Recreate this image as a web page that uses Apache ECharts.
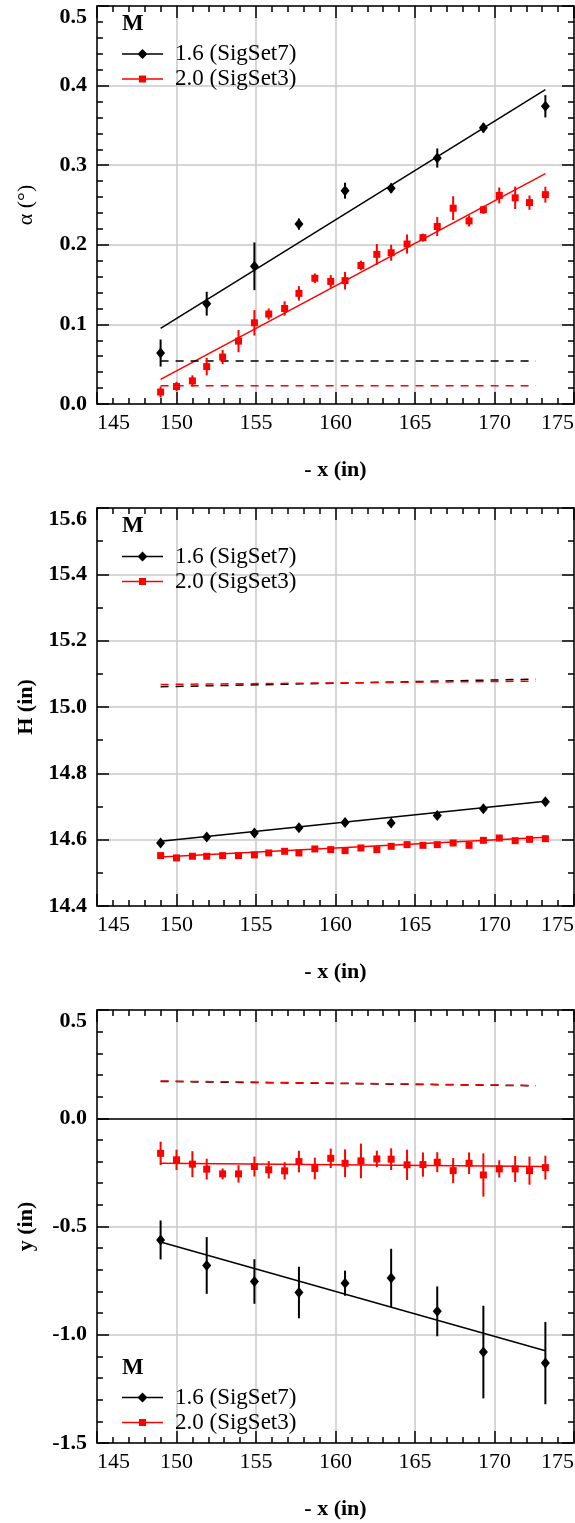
<!DOCTYPE html>
<html>
<head>
<meta charset="utf-8">
<script src="https://cdn.jsdelivr.net/npm/echarts@6/dist/echarts.min.js"></script>
<style>
html,body{margin:0;padding:0;background:#fff;}
#chart{width:575px;height:1523px;}
</style>
</head>
<body>
<div id="chart"></div>
<script>
// ---------------- data ----------------
const xTicks = [145, 150, 155, 160, 165, 170, 175];
const alphaTicks = [0.0, 0.1, 0.2, 0.3, 0.4, 0.5];
const hTicks = [14.4, 14.6, 14.8, 15.0, 15.2, 15.4, 15.6];
const yTicks = [-1.5, -1.0, -0.5, 0.0, 0.5];

const nameBlack = '1.6 (SigSet7)';
const nameRed = '2.0 (SigSet3)';

const xBlack = [149.0, 151.9, 154.9, 157.7, 160.6, 163.5, 166.4, 169.3, 173.2];
const xRed = [149.0, 150.0, 151.0, 151.9, 152.9, 153.9, 154.9, 155.8, 156.8, 157.7, 158.7, 159.7, 160.6,
              161.6, 162.6, 163.5, 164.5, 165.5, 166.4, 167.4, 168.4, 169.3, 170.3, 171.3, 172.2, 173.2];

// panel 1 : alpha (deg)
const alphaBlack = [0.064, 0.126, 0.173, 0.226, 0.268, 0.271, 0.309, 0.347, 0.374];
const alphaBlackErr = [0.017, 0.015, 0.030, 0.007, 0.010, 0.006, 0.012, 0.006, 0.014];
const alphaRed = [0.015, 0.022, 0.029, 0.047, 0.059, 0.079, 0.102, 0.113, 0.120, 0.139, 0.158, 0.154, 0.155,
                  0.174, 0.188, 0.190, 0.201, 0.209, 0.223, 0.246, 0.230, 0.244, 0.262, 0.259, 0.253, 0.263];
const alphaRedErr = [0.007, 0.006, 0.007, 0.011, 0.009, 0.014, 0.016, 0.007, 0.009, 0.009, 0.006, 0.008, 0.011,
                     0.006, 0.013, 0.010, 0.012, 0.005, 0.012, 0.015, 0.007, 0.005, 0.010, 0.014, 0.009, 0.010];
const alphaFitBlack = [[149.0, 0.095], [173.2, 0.395]];
const alphaFitRed = [[149.0, 0.031], [173.2, 0.2895]];
const alphaRefBlack = [[149.0, 0.054], [172.6, 0.054]];
const alphaRefRed = [[149.0, 0.023], [172.6, 0.023]];

// panel 2 : H (in)
const hBlack = [14.590, 14.608, 14.620, 14.636, 14.652, 14.650, 14.673, 14.693, 14.714];
const hRed = [14.552, 14.545, 14.550, 14.550, 14.552, 14.552, 14.554, 14.560, 14.565, 14.560, 14.572, 14.570, 14.567,
              14.575, 14.570, 14.580, 14.585, 14.583, 14.585, 14.590, 14.583, 14.598, 14.605, 14.597, 14.601, 14.603];
const hFitBlack = [[149.0, 14.595], [173.2, 14.716]];
const hFitRed = [[149.0, 14.5475], [173.2, 14.607]];
const hRefBlack = [[149.0, 15.061], [172.6, 15.084]];
const hRefRed = [[149.0, 15.068], [172.6, 15.078]];

// panel 3 : y (in)
const yBlack = [-0.562, -0.680, -0.754, -0.805, -0.762, -0.738, -0.892, -1.080, -1.131];
const yBlackErr = [0.090, 0.131, 0.103, 0.119, 0.058, 0.135, 0.115, 0.214, 0.190];
const yRed = [-0.162, -0.192, -0.212, -0.235, -0.257, -0.257, -0.223, -0.238, -0.243, -0.200, -0.232, -0.185, -0.208,
              -0.197, -0.188, -0.189, -0.215, -0.214, -0.203, -0.242, -0.208, -0.262, -0.234, -0.234, -0.242, -0.228];
const yRedErr = [0.054, 0.047, 0.060, 0.048, 0.025, 0.040, 0.046, 0.040, 0.040, 0.050, 0.050, 0.045, 0.064,
                 0.080, 0.038, 0.050, 0.070, 0.056, 0.046, 0.058, 0.050, 0.100, 0.040, 0.060, 0.065, 0.055];
const yFitBlack = [[149.0, -0.572], [173.2, -1.074]];
const yFitRed = [[149.0, -0.208], [173.2, -0.223]];
const yRefBlack = [[149.0, 0.170], [172.6, 0.150]];
const yRefRed = [[149.0, 0.172], [172.6, 0.151]];

// ---------------- styling / construction ----------------
const FONT = 'Liberation Serif';
const BLACK = '#000000';
const RED = '#ff0000';
const GRIDC = '#c8c8c8';

const grids = [
  {left: 97, top: 6, width: 477, height: 398},
  {left: 97, top: 508, width: 477, height: 398},
  {left: 97, top: 1010, width: 477, height: 433}
];
const yDefs = [
  {ticks: alphaTicks, minor: 5, name: 'α (°)', nameWeight: 'normal'},
  {ticks: hTicks, minor: 2, name: 'H (in)', nameWeight: 'bold'},
  {ticks: yTicks, minor: 5, name: 'y (in)', nameWeight: 'bold'}
];

const axisLine = {show: true, onZero: false, lineStyle: {color: BLACK, width: 1.5}};
const axisTick = {show: true, inside: true, length: 12, lineStyle: {color: BLACK, width: 1.5}};
function minorTick(n) { return {show: true, splitNumber: n, length: 6, lineStyle: {color: BLACK, width: 1.5}}; }

const xAxes = [], yAxes = [];
for (let p = 0; p < 3; p++) {
  const xmin = xTicks[0], xmax = xTicks[xTicks.length - 1], xint = xTicks[1] - xTicks[0];
  xAxes.push({
    type: 'value', gridIndex: p, position: 'bottom', min: xmin, max: xmax, interval: xint,
    axisLine, axisTick, minorTick: minorTick(5),
    splitLine: {show: true, lineStyle: {color: GRIDC, width: 1.5}},
    axisLabel: {show: true, color: BLACK, fontFamily: FONT, fontSize: 22, margin: 8,
                alignMinLabel: 'left', alignMaxLabel: 'right', showMinLabel: true, showMaxLabel: true,
                hideOverlap: false},
    name: '- x (in)', nameLocation: 'middle', nameGap: 55,
    nameTextStyle: {color: BLACK, fontFamily: FONT, fontSize: 22, fontWeight: 'bold'}
  });
  const yt = yDefs[p].ticks;
  const ymin = yt[0], ymax = yt[yt.length - 1], yint = +(yt[1] - yt[0]).toFixed(6);
  yAxes.push({
    type: 'value', gridIndex: p, position: 'left', min: ymin, max: ymax, interval: yint,
    axisLine, axisTick, minorTick: minorTick(yDefs[p].minor),
    splitLine: {show: true, lineStyle: {color: GRIDC, width: 1.5}},
    axisLabel: {show: true, color: BLACK, fontFamily: FONT, fontSize: 22, fontWeight: 'bold', margin: 10,
                formatter: v => v.toFixed(1), verticalAlignMaxLabel: 'top',
                showMinLabel: true, showMaxLabel: true, hideOverlap: false},
    name: yDefs[p].name, nameLocation: 'middle', nameGap: 60, nameRotate: 90,
    nameTextStyle: {color: BLACK, fontFamily: FONT, fontSize: 22, fontWeight: yDefs[p].nameWeight}
  });
}
for (let p = 0; p < 3; p++) {
  const xa = xAxes[p], ya = yAxes[p];
  xAxes.push({type: 'value', gridIndex: p, position: 'top', min: xa.min, max: xa.max, interval: xa.interval,
              axisLine, axisTick, minorTick: minorTick(5), splitLine: {show: false}, axisLabel: {show: false}});
  yAxes.push({type: 'value', gridIndex: p, position: 'right', min: ya.min, max: ya.max, interval: ya.interval,
              axisLine, axisTick, minorTick: minorTick(yDefs[p].minor), splitLine: {show: false}, axisLabel: {show: false}});
}

function fitLine(name, data, color, p, extra) {
  return Object.assign({
    name, type: 'line', xAxisIndex: p, yAxisIndex: p, data, color,
    showSymbol: false, symbol: 'none', silent: true,
    lineStyle: {color, width: 1.5}, z: 2
  }, extra || {});
}
function refLine(name, data, color, p) {
  return {name, type: 'line', xAxisIndex: p, yAxisIndex: p, data, showSymbol: false, symbol: 'none', silent: true,
          lineStyle: {color, width: 1.5, type: [8, 7]}, z: 2};
}
function errBars(name, xs, vals, errs, color, p) {
  return {
    name, type: 'custom', xAxisIndex: p, yAxisIndex: p, silent: true, z: 3,
    data: xs.map((x, i) => [x, vals[i] - errs[i], vals[i] + errs[i]]),
    encode: {x: 0, y: [1, 2]},
    renderItem: (params, api) => {
      const a = api.coord([api.value(0), api.value(1)]);
      const b = api.coord([api.value(0), api.value(2)]);
      return {type: 'line', shape: {x1: a[0], y1: a[1], x2: b[0], y2: b[1]},
              style: {stroke: color, lineWidth: 2}};
    }
  };
}
function points(name, xs, vals, color, symbol, size, p) {
  return {name, type: 'scatter', xAxisIndex: p, yAxisIndex: p, silent: true, z: 4,
          data: xs.map((x, i) => [x, vals[i]]), symbol, symbolSize: size,
          itemStyle: {color, opacity: 1}};
}

const DIAMOND = [9, 11];
const SQUARE = 7;
const series = [
  // panel 1
  fitLine(nameBlack, alphaFitBlack, BLACK, 0),
  fitLine(nameRed, alphaFitRed, RED, 0),
  refLine('ref black a', alphaRefBlack, BLACK, 0),
  refLine('ref red a', alphaRefRed, RED, 0),
  errBars('err black a', xBlack, alphaBlack, alphaBlackErr, BLACK, 0),
  errBars('err red a', xRed, alphaRed, alphaRedErr, RED, 0),
  points('pts black a', xBlack, alphaBlack, BLACK, 'diamond', DIAMOND, 0),
  points('pts red a', xRed, alphaRed, RED, 'rect', SQUARE, 0),
  // panel 2
  fitLine(nameBlack, hFitBlack, BLACK, 1),
  fitLine(nameRed, hFitRed, RED, 1),
  refLine('ref black h', hRefBlack, BLACK, 1),
  refLine('ref red h', hRefRed, RED, 1),
  points('pts black h', xBlack, hBlack, BLACK, 'diamond', DIAMOND, 1),
  points('pts red h', xRed, hRed, RED, 'rect', SQUARE, 1),
  // panel 3
  fitLine(nameBlack, yFitBlack, BLACK, 2, {
    markLine: {silent: true, symbol: ['none', 'none'], label: {show: false}, animation: false,
               lineStyle: {color: BLACK, width: 1.5, type: 'solid'}, data: [{yAxis: 0}]}
  }),
  fitLine(nameRed, yFitRed, RED, 2),
  refLine('ref black y', yRefBlack, BLACK, 2),
  refLine('ref red y', yRefRed, RED, 2),
  errBars('err black y', xBlack, yBlack, yBlackErr, BLACK, 2),
  errBars('err red y', xRed, yRed, yRedErr, RED, 2),
  points('pts black y', xBlack, yBlack, BLACK, 'diamond', DIAMOND, 2),
  points('pts red y', xRed, yRed, RED, 'rect', SQUARE, 2)
];

const iconBlack = 'path://M0,5.3L41,5.3L41,6.7L0,6.7Z M20.5,1L25.5,6L20.5,11L15.5,6Z';
const iconRed = 'path://M0,5.3L41,5.3L41,6.7L0,6.7Z M17,2.5L24,2.5L24,9.5L17,9.5Z';
function legendAt(top) {
  return {
    left: 122, top, orient: 'vertical', padding: 0, itemGap: 0, itemWidth: 41, itemHeight: 10,
    selectedMode: false, symbolKeepAspect: true,
    itemStyle: {borderWidth: 0},
    textStyle: {color: BLACK, fontFamily: FONT, fontSize: 23, lineHeight: 25, padding: [0, 0, 0, 7]},
    data: [
      {name: nameBlack, icon: iconBlack, itemStyle: {color: BLACK, borderWidth: 0}},
      {name: nameRed, icon: iconRed, itemStyle: {color: RED, borderWidth: 0}}
    ]
  };
}
function titleAt(top) {
  return {text: 'M', left: 122, top, padding: 0,
          textStyle: {color: BLACK, fontFamily: FONT, fontSize: 23, fontWeight: 'bold'}};
}

const option = {
  animation: false,
  backgroundColor: '#ffffff',
  textStyle: {fontFamily: FONT},
  title: [titleAt(13), titleAt(515), titleAt(1357)],
  legend: [legendAt(41.5), legendAt(544), legendAt(1385)],
  grid: grids.map(g => Object.assign({containLabel: false, outerBoundsMode: 'none'}, g)),
  xAxis: xAxes,
  yAxis: yAxes,
  series
};

const chart = echarts.init(document.getElementById('chart'), null, {renderer: 'canvas'});
chart.setOption(option);
</script>
</body>
</html>
